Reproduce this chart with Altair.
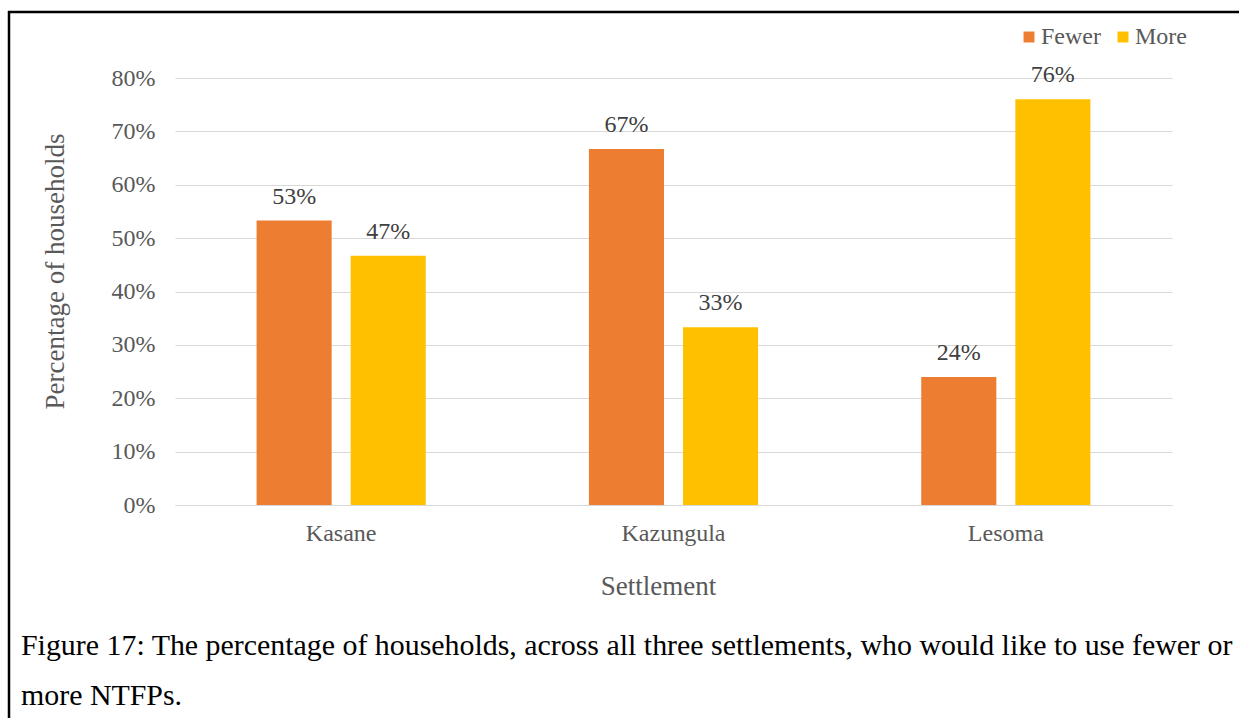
import altair as alt
import pandas as pd

settlements = ["Kasane", "Kazungula", "Lesoma"]
fewer = [0.533, 0.667, 0.24]
more = [0.467, 0.333, 0.76]
series = ["Fewer", "More"]
colors = ["#ED7D31", "#FFC000"]
caption_lines = [
    "Figure 17: The percentage of households, across all three settlements, who would like to use fewer or",
    "more NTFPs.",
]

rows = []
for i, s in enumerate(settlements):
    rows.append({"Settlement": s, "Series": "Fewer", "Value": fewer[i]})
    rows.append({"Settlement": s, "Series": "More", "Value": more[i]})
df = pd.DataFrame(rows)

FONT = "Liberation Serif"
LBL = 24
TTL = 27

x = alt.X("Settlement:N", sort=settlements, title="Settlement",
          scale=alt.Scale(paddingInner=0.491, paddingOuter=0.2455),
          axis=alt.Axis(labelAngle=0, ticks=False, domain=True, domainColor="#d9d9d9",
                        labelFontSize=LBL, labelColor="#595959", labelFont=FONT,
                        labelPadding=16, titleFontSize=TTL, titleColor="#595959",
                        titleFont=FONT, titleFontWeight="normal",
                        titleX=483, titleY=81, titleBaseline="middle"))
xo = alt.XOffset("Series:N", sort=series, scale=alt.Scale(paddingInner=0.202, paddingOuter=0))
y = alt.Y("Value:Q", title="Percentage of households",
          scale=alt.Scale(domain=[0, 0.8]),
          axis=alt.Axis(format=".0%", values=[0, 0.1, 0.2, 0.3, 0.4, 0.5, 0.6, 0.7, 0.8],
                        ticks=False, domain=False, gridColor="#d9d9d9", gridWidth=1,
                        labelFontSize=LBL, labelColor="#595959", labelFont=FONT,
                        labelPadding=20, titleFontSize=TTL, titleColor="#595959",
                        titleFont=FONT, titleFontWeight="normal",
                        titleX=-120, titleY=193, titleBaseline="middle"))

color = alt.Color("Series:N", sort=series,
                  scale=alt.Scale(domain=series, range=colors),
                  legend=alt.Legend(title=None, orient="none", direction="horizontal",
                                    legendX=842, legendY=-53, symbolType="square",
                                    symbolSize=120, symbolStrokeWidth=0,
                                    labelFontSize=LBL, labelFont=FONT, labelColor="#595959",
                                    columnPadding=10, labelOffset=0))

bars = alt.Chart(df).mark_bar().encode(x=x, xOffset=xo, y=y, color=color)
labels = alt.Chart(df).mark_text(dy=-12, baseline="bottom", font=FONT, fontSize=LBL,
                                 color="#404040").encode(
    x=alt.X("Settlement:N", sort=settlements),
    xOffset=alt.XOffset("Series:N", sort=series),
    y="Value:Q",
    text=alt.Text("Value:Q", format=".0%"))

cap1 = alt.Chart(pd.DataFrame({"line": [caption_lines[0]]})).mark_text(
    align="left", baseline="alphabetic", font=FONT, fontSize=29.9, color="#000000").encode(
    x=alt.value(-154), y=alt.value(577), text="line:N")
cap2 = alt.Chart(pd.DataFrame({"line": [caption_lines[1]]})).mark_text(
    align="left", baseline="alphabetic", font=FONT, fontSize=29.9, color="#000000").encode(
    x=alt.value(-154), y=alt.value(627), text="line:N")

top_rule = alt.Chart(pd.DataFrame({"a": [0]})).mark_rule(color="black", strokeWidth=2.5).encode(
    x=alt.value(-167), x2=alt.value(1070), y=alt.value(-66))
left_rule = alt.Chart(pd.DataFrame({"a": [0]})).mark_rule(color="black", strokeWidth=2.5).encode(
    x=alt.value(-166), y=alt.value(-67), y2=alt.value(645))

chart = alt.layer(bars, labels, cap1, cap2, top_rule, left_rule).properties(
    width=997, height=427,
    autosize=alt.AutoSizeParams(type="none"),
    padding={"left": 175, "top": 78, "right": 67, "bottom": 213},
    background="white",
).configure(font=FONT).configure_view(stroke=None)

chart.save("out.html", embed_options={"renderer": "svg", "actions": False})
